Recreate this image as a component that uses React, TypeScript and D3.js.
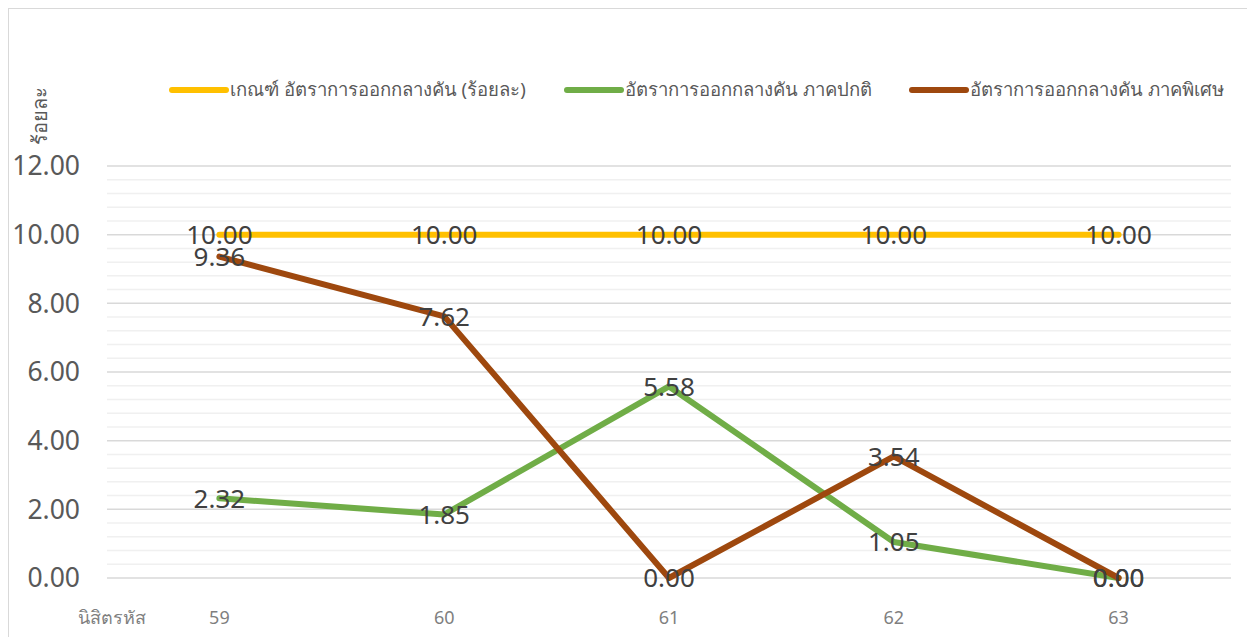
import React from 'react';
import { scaleLinear, scalePoint, line, range } from 'd3';

const years = ['59', '60', '61', '62', '63'];
const criterion = [10, 10, 10, 10, 10];
const regular = [2.32, 1.85, 5.58, 1.05, 0.0];
const special = [9.36, 7.62, 0.0, 3.54, 0.0];
const seriesNames = [
  'เกณฑ์ อัตราการออกกลางคัน (ร้อยละ)',
  'อัตราการออกกลางคัน ภาคปกติ',
  'อัตราการออกกลางคัน ภาคพิเศษ',
];
const seriesColors = ['#FFC000', '#70AD47', '#9E480E'];
const yTicks = [0, 2, 4, 6, 8, 10, 12];

const FONT = '"Noto Sans", "Open Sans", sans-serif';

export default function App() {
  const W = 1255;
  const H = 637;
  const left = 107;
  const right = 1231;
  const top = 166;
  const bottom = 578;

  const x = scalePoint<string>().domain(years).range([left, right]).padding(0.5);
  const y = scaleLinear().domain([0, 12]).range([bottom, top]);

  // minor gridlines every 0.4, skipping the major ones
  const minorTicks = range(0, 12.001, 0.4).filter(
    (v) => Math.abs(v / 2 - Math.round(v / 2)) > 0.01
  );

  const all = [criterion, regular, special];
  const mk = line<number>()
    .x((_, i) => x(years[i]) as number)
    .y((d) => y(d));

  const legendX = [172, 567, 912];

  return (
    <svg
      width={W - 8}
      height={H - 8}
      style={{ display: 'block', overflow: 'hidden' }}
      fontFamily={FONT}
    >
      <g transform="translate(-8,-8)">
        <rect x={8.5} y={8.5} width={1300} height={700} fill="#fff" stroke="#d9d9d9" />

        {minorTicks.map((v) => (
          <line key={'m' + v} x1={left} x2={right} y1={y(v)} y2={y(v)} stroke="#f0f0f0" strokeWidth={1.5} />
        ))}
        {yTicks.map((v) => (
          <line key={'g' + v} x1={left} x2={right} y1={y(v)} y2={y(v)} stroke="#d9d9d9" strokeWidth={1.5} />
        ))}

        {yTicks.map((v) => (
          <text key={'t' + v} x={80} y={y(v)} dy="0.35em" textAnchor="end" fontSize={26.5} fill="#595959">
            {v.toFixed(2)}
          </text>
        ))}

        <text
          transform="translate(47,116) rotate(-90)"
          textAnchor="middle"
          fontSize={20}
          fill="#595959"
        >
          ร้อยละ
        </text>

        {years.map((c) => (
          <text key={c} x={x(c)} y={624} textAnchor="middle" fontSize={18} fill="#7f7f7f">
            {c}
          </text>
        ))}
        <text x={78} y={624} fontSize={18} fill="#7f7f7f">
          นิสิตรหัส
        </text>

        {all.map((s, i) => (
          <path
            key={'s' + i}
            d={mk(s) || ''}
            fill="none"
            stroke={seriesColors[i]}
            strokeWidth={6}
            strokeLinecap="round"
            strokeLinejoin="round"
          />
        ))}

        {all.map((s, i) =>
          s.map((v, j) => (
            <text
              key={'l' + i + '-' + j}
              x={x(years[j])}
              y={y(v)}
              dy="0.36em"
              textAnchor="middle"
              fontSize={26}
              fill="#404040"
            >
              {v.toFixed(2)}
            </text>
          ))
        )}

        {seriesNames.map((n, i) => (
          <g key={'lg' + i}>
            <line
              x1={legendX[i]}
              x2={legendX[i] + 54}
              y1={90}
              y2={90}
              stroke={seriesColors[i]}
              strokeWidth={6}
              strokeLinecap="round"
            />
            <text x={legendX[i] + 58} y={90} dy="0.35em" fontSize={18.5} fill="#595959">
              {n}
            </text>
          </g>
        ))}
      </g>
    </svg>
  );
}
